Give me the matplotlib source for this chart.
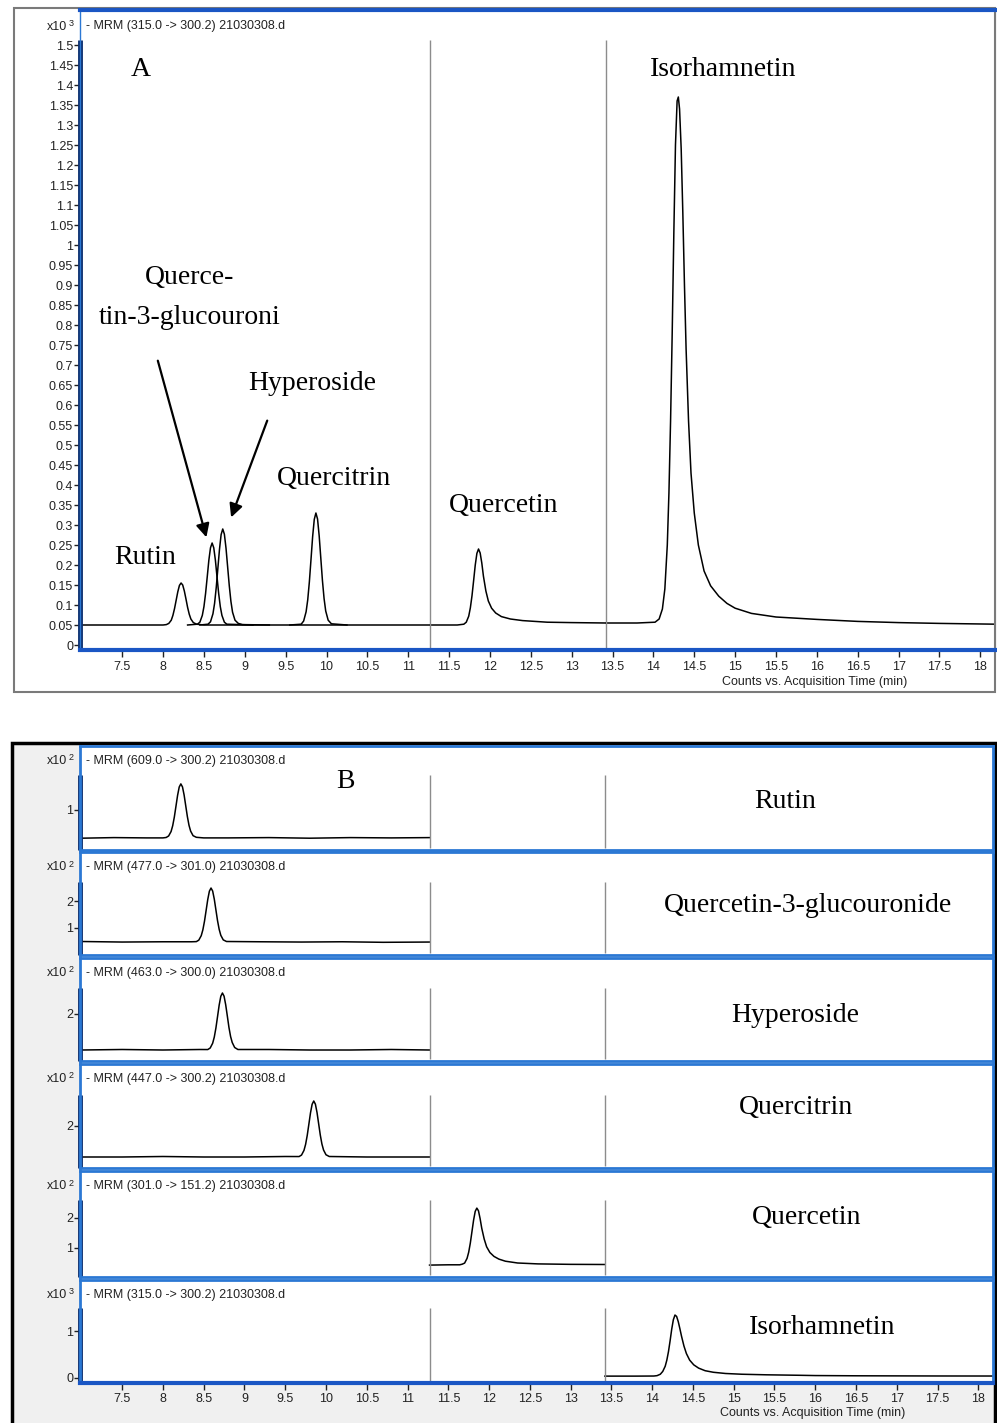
## MRM chromatograms of flavonoids: overlay (A) and single transitions (B)

import matplotlib
matplotlib.use('Agg')
import matplotlib.pyplot as plt
import numpy as np
from matplotlib.patches import Rectangle

# ---- data (time in min, counts in the scale shown) ----
seg_edges = [11.27, 13.42]
x_ticks = np.arange(7.5, 18.01, 0.5)

# panel A (x10^3)
a_rut_t = [7.0, 7.6, 8.0, 8.04, 8.07, 8.1, 8.12, 8.14, 8.16, 8.18, 8.2, 8.22, 8.24, 8.26, 8.28, 8.3, 8.32, 8.34,
           8.37, 8.41, 8.5, 9.0, 10.0, 11.27]
a_rut_y = [0.05, 0.05, 0.05, 0.051, 0.054, 0.062, 0.074, 0.091, 0.112, 0.133, 0.149, 0.155, 0.15, 0.135, 0.115,
           0.094, 0.077, 0.065, 0.056, 0.052, 0.05, 0.05, 0.05, 0.05]
a_q3g_t = [8.3, 8.42, 8.45, 8.48, 8.5, 8.52, 8.54, 8.56, 8.58, 8.6, 8.62, 8.64, 8.66, 8.68, 8.7, 8.72, 8.75, 8.78, 9.1]
a_q3g_y = [0.05, 0.052, 0.057, 0.074, 0.096, 0.129, 0.17, 0.212, 0.243, 0.255, 0.243, 0.212, 0.17, 0.129, 0.096,
           0.074, 0.057, 0.052, 0.05]
a_hyp_t = [8.45, 8.55, 8.58, 8.61, 8.63, 8.65, 8.67, 8.69, 8.71, 8.73, 8.75, 8.77, 8.79, 8.81, 8.83, 8.85, 8.88,
           8.92, 8.97, 9.3]
a_hyp_y = [0.05, 0.052, 0.058, 0.078, 0.104, 0.143, 0.191, 0.239, 0.276, 0.29, 0.277, 0.242, 0.195, 0.148, 0.109,
           0.082, 0.062, 0.054, 0.051, 0.05]
a_qct_t = [9.55, 9.69, 9.72, 9.75, 9.77, 9.79, 9.81, 9.83, 9.85, 9.87, 9.89, 9.91, 9.93, 9.95, 9.97, 9.99, 10.02,
           10.06, 10.25]
a_qct_y = [0.05, 0.052, 0.06, 0.083, 0.113, 0.158, 0.214, 0.271, 0.314, 0.33, 0.315, 0.273, 0.217, 0.161, 0.116,
           0.085, 0.062, 0.053, 0.05]
a_qce_t = [11.27, 11.6, 11.68, 11.71, 11.74, 11.76, 11.78, 11.8, 11.82, 11.84, 11.86, 11.88, 11.9, 11.92, 11.95,
           11.98, 12.02, 12.07, 12.14, 12.25, 12.4, 12.7, 13.0, 13.42]
a_qce_y = [0.05, 0.05, 0.052, 0.057, 0.072, 0.093, 0.123, 0.161, 0.2, 0.229, 0.24, 0.23, 0.205, 0.172, 0.135,
           0.11, 0.092, 0.08, 0.071, 0.065, 0.061, 0.057, 0.056, 0.055]
a_iso_t = [13.42, 13.8, 14.02, 14.07, 14.11, 14.14, 14.17, 14.19, 14.21, 14.23, 14.25, 14.27, 14.29, 14.305, 14.32,
           14.34, 14.36, 14.38, 14.4, 14.43, 14.46, 14.5, 14.55, 14.62, 14.7, 14.8, 14.9, 15.0, 15.2, 15.5,
           16.0, 16.5, 17.0, 17.5, 18.2]
a_iso_y = [0.055, 0.055, 0.057, 0.065, 0.09, 0.14, 0.25, 0.38, 0.56, 0.78, 1.03, 1.25, 1.36, 1.37, 1.34,
           1.24, 1.08, 0.9, 0.74, 0.56, 0.43, 0.33, 0.25, 0.185, 0.148, 0.122, 0.104, 0.092, 0.079, 0.07,
           0.064, 0.059, 0.056, 0.054, 0.052]

# panel B, one trace per transition
b_rut_t = [7.0, 7.4, 7.8, 8.0, 8.04, 8.07, 8.1, 8.12, 8.14, 8.16, 8.18, 8.2, 8.22, 8.24, 8.26, 8.28, 8.3, 8.32,
           8.34, 8.37, 8.41, 8.5, 8.8, 9.3, 9.8, 10.3, 10.8, 11.27]
b_rut_y = [0.53, 0.54, 0.535, 0.535, 0.542, 0.567, 0.641, 0.738, 0.882, 1.062, 1.244, 1.383, 1.435, 1.385, 1.25,
           1.07, 0.89, 0.745, 0.648, 0.572, 0.545, 0.535, 0.535, 0.54, 0.53, 0.54, 0.535, 0.54]
b_q3g_t = [7.0, 7.5, 8.0, 8.35, 8.41, 8.44, 8.47, 8.49, 8.51, 8.53, 8.55, 8.57, 8.59, 8.61, 8.63, 8.65, 8.67, 8.69,
           8.71, 8.74, 8.78, 9.2, 9.7, 10.2, 10.7, 11.27]
b_q3g_y = [0.5, 0.48, 0.49, 0.49, 0.496, 0.55, 0.716, 0.932, 1.252, 1.652, 2.056, 2.364, 2.48, 2.37, 2.07, 1.67,
           1.27, 0.95, 0.73, 0.56, 0.5, 0.49, 0.48, 0.49, 0.47, 0.48]
b_hyp_t = [7.0, 7.5, 8.0, 8.45, 8.55, 8.58, 8.61, 8.63, 8.65, 8.67, 8.69, 8.71, 8.73, 8.75, 8.77, 8.79, 8.81, 8.83,
           8.85, 8.88, 8.92, 9.3, 9.8, 10.3, 10.8, 11.27]
b_hyp_y = [1.28, 1.29, 1.28, 1.29, 1.289, 1.32, 1.415, 1.538, 1.72, 1.948, 2.178, 2.354, 2.42, 2.356, 2.185, 1.96,
           1.73, 1.55, 1.43, 1.33, 1.29, 1.29, 1.28, 1.28, 1.29, 1.28]
b_qct_t = [7.0, 7.5, 8.0, 8.5, 9.0, 9.5, 9.67, 9.7, 9.73, 9.75, 9.77, 9.79, 9.81, 9.83, 9.85, 9.87, 9.89, 9.91,
           9.93, 9.95, 9.97, 10.0, 10.04, 10.5, 11.0, 11.27]
b_qct_y = [1.38, 1.38, 1.39, 1.38, 1.38, 1.39, 1.389, 1.419, 1.512, 1.633, 1.812, 2.036, 2.263, 2.435, 2.5, 2.437,
           2.27, 2.045, 1.82, 1.64, 1.52, 1.425, 1.39, 1.38, 1.38, 1.38]
b_qce_t = [11.27, 11.5, 11.64, 11.67, 11.7, 11.73, 11.75, 11.77, 11.79, 11.81, 11.83, 11.85, 11.87, 11.89, 11.91,
           11.94, 11.97, 12.01, 12.06, 12.12, 12.2, 12.35, 12.6, 13.0, 13.42]
b_qce_y = [0.43, 0.44, 0.44, 0.46, 0.497, 0.654, 0.859, 1.163, 1.544, 1.927, 2.22, 2.33, 2.24, 1.98, 1.66,
           1.3, 1.04, 0.85, 0.72, 0.63, 0.56, 0.5, 0.47, 0.455, 0.45]
b_iso_t = [13.42, 13.8, 14.02, 14.06, 14.1, 14.13, 14.16, 14.18, 14.2, 14.22, 14.24, 14.26, 14.28, 14.3, 14.32,
           14.34, 14.36, 14.39, 14.42, 14.46, 14.51, 14.57, 14.65, 14.75, 14.9, 15.1, 15.4, 15.8, 16.0, 16.5,
           17.0, 17.5, 18.2]
b_iso_y = [0.04, 0.04, 0.042, 0.05, 0.08, 0.14, 0.25, 0.38, 0.56, 0.79, 1.04, 1.24, 1.34, 1.31, 1.2,
           1.05, 0.89, 0.68, 0.52, 0.38, 0.28, 0.21, 0.155, 0.122, 0.096, 0.08, 0.068, 0.058, 0.052, 0.047,
           0.045, 0.043, 0.042]

b_headers = ['- MRM (609.0 -> 300.2) 21030308.d', '- MRM (477.0 -> 301.0) 21030308.d',
             '- MRM (463.0 -> 300.0) 21030308.d', '- MRM (447.0 -> 300.2) 21030308.d',
             '- MRM (301.0 -> 151.2) 21030308.d', '- MRM (315.0 -> 300.2) 21030308.d']
b_names = ['Rutin', 'Quercetin-3-glucouronide', 'Hyperoside', 'Quercitrin', 'Quercetin', 'Isorhamnetin']
b_exp = ['2', '2', '2', '2', '2', '3']
b_yticks = [[1], [1, 2], [2], [2], [1, 2], [0, 1]]
b_traces = [(b_rut_t, b_rut_y), (b_q3g_t, b_q3g_y), (b_hyp_t, b_hyp_y),
            (b_qct_t, b_qct_y), (b_qce_t, b_qce_y), (b_iso_t, b_iso_y)]

# ---- layout (pixels) ----
W, H = 997, 1423
plt.rcParams['font.family'] = ['Liberation Sans', 'DejaVu Sans']
SERIF = ['Liberation Serif', 'DejaVu Serif']
BLUE = '#2b78d4'
DARKBLUE = '#0d2f6e'
GREY = '#8c8c8c'
LABEL_FS = 20

fig = plt.figure(figsize=(W / 100, H / 100), dpi=100)

def fx(px):
    return px / W

def fy(py):
    return 1 - py / H

def add_ax(x0, y0, x1, y1):
    return fig.add_axes([x0 / W, 1 - y1 / H, (x1 - x0) / W, (y1 - y0) / H])

def px2t(px):
    return 8 + (px - 163) / 81.63

def fmt(v):
    return f'{v:.2f}'.rstrip('0').rstrip('.')

XL = (px2t(80), px2t(994))

def exp_label(py, e):
    fig.text(fx(67), fy(py), 'x10', ha='right', va='center', fontsize=9, color='#222222')
    fig.text(fx(69), fy(py - 3), e, ha='left', va='center', fontsize=6.5, color='#222222')

# ================= panel A =================
fig.add_artist(Rectangle((fx(14), fy(692)), fx(995) - fx(14), fy(8) - fy(692), transform=fig.transFigure,
                         facecolor='white', edgecolor='#7a7a7a', lw=1.5, zorder=-5))
axA = add_ax(80, 10, 995, 650)
yA = lambda py: (645 - py) / 400
axA.set_xlim(*XL)
axA.set_ylim(yA(650), yA(10))
for t, y in [(a_rut_t, a_rut_y), (a_q3g_t, a_q3g_y), (a_hyp_t, a_hyp_y),
             (a_qct_t, a_qct_y), (a_qce_t, a_qce_y), (a_iso_t, a_iso_y)]:
    axA.plot(t, y, color='black', lw=1.1)
axA.vlines(seg_edges, yA(648), yA(40), color=GREY, lw=1)
axA.plot([XL[0], XL[0]], [yA(650), yA(40)], color=DARKBLUE, lw=3.5, clip_on=False, solid_capstyle='butt')

for s in ['top', 'bottom']:
    axA.spines[s].set_color('#1a56c4')
    axA.spines[s].set_linewidth(3)
axA.spines['left'].set_color(BLUE)
axA.spines['left'].set_linewidth(1)
axA.spines['right'].set_color('#7a7a7a')
axA.spines['right'].set_linewidth(1.5)

ya_ticks = np.arange(0, 1.501, 0.05)
axA.set_yticks(ya_ticks)
axA.set_yticklabels([fmt(v) for v in ya_ticks])
axA.set_xticks(x_ticks)
axA.set_xticklabels([fmt(v) for v in x_ticks])
axA.tick_params(axis='y', direction='out', length=4, width=1, labelsize=9, pad=1, colors='#222222')
axA.tick_params(axis='x', direction='out', length=5, width=1, labelsize=9, pad=3, colors='#222222')

exp_label(27, '3')
fig.text(fx(86), fy(26), '- MRM (315.0 -> 300.2) 21030308.d', ha='left', va='center', fontsize=9, color='#222222')
fig.text(fx(815), fy(682), 'Counts vs. Acquisition Time (min)', ha='center', va='center', fontsize=9, color='#222222')

# peak names
for txt, px, py in [('A', 141, 70), ('Isorhamnetin', 723, 69), ('Querce-', 190, 277),
                    ('tin-3-glucouroni', 190, 318), ('Hyperoside', 312, 384), ('Quercitrin', 334, 479),
                    ('Quercetin', 504, 505), ('Rutin', 145, 557)]:
    fig.text(fx(px), fy(py), txt, ha='center', va='center', fontsize=LABEL_FS, family=SERIF)

for (x0, y0), (x1, y1) in [((157, 358), (207, 540)), ((268, 418), (230, 520))]:
    axA.annotate('', xy=(px2t(x1), yA(y1)), xytext=(px2t(x0), yA(y0)),
                 arrowprops=dict(arrowstyle='-|>', color='black', lw=1.6, mutation_scale=20))

# ================= panel B =================
fig.add_artist(Rectangle((fx(12), fy(1440)), fx(995) - fx(12), fy(743) - fy(1440), transform=fig.transFigure,
                         facecolor='#f0f0f0', edgecolor='black', lw=2.5, zorder=-5))

tops = [746, 852, 958, 1064, 1171, 1280]
bots = [850, 955, 1061, 1168, 1277, 1383]
data_tops = [775, 882, 988, 1095, 1200, 1308]
# (tick value, its pixel row, pixels per unit)
calib = [(1, 810, 60), (2, 901, 27), (2, 1014, 50), (2, 1126, 50), (2, 1218, 30), (1, 1331, 47)]

for i in range(6):
    ax = add_ax(80, tops[i], 993, bots[i])
    v, vp, s = calib[i]
    to_y = lambda py, v=v, vp=vp, s=s: v + (vp - py) / s
    ax.set_xlim(*XL)
    ax.set_ylim(to_y(bots[i]), to_y(tops[i]))
    t, y = b_traces[i]
    ax.plot(t, y, color='black', lw=1.1)
    ax.vlines(seg_edges, to_y(bots[i] - 2), to_y(data_tops[i]), color=GREY, lw=1)
    ax.plot([XL[0], XL[0]], [to_y(bots[i]), to_y(data_tops[i])], color=DARKBLUE, lw=3.5,
            clip_on=False, solid_capstyle='butt')
    for sp in ax.spines.values():
        sp.set_color(BLUE)
        sp.set_linewidth(2)
    ax.set_yticks(b_yticks[i])
    ax.set_yticklabels([str(k) for k in b_yticks[i]])
    ax.tick_params(axis='y', direction='out', length=4, width=1, labelsize=9, pad=1, colors='#222222')
    if i < 5:
        ax.set_xticks([])
    else:
        ax.set_xticks(x_ticks)
        ax.set_xticklabels([fmt(k) for k in x_ticks])
        ax.tick_params(axis='x', direction='out', length=5, width=1, labelsize=9, pad=2, colors='#222222')
        ax.spines['bottom'].set_color('#1a56c4')
        ax.spines['bottom'].set_linewidth(3)
    exp_label(tops[i] + 15, b_exp[i])
    fig.text(fx(86), fy(tops[i] + 15), b_headers[i], ha='left', va='center', fontsize=9, color='#222222')

fig.text(fx(345), fy(782), 'B', ha='center', va='center', fontsize=LABEL_FS, family=SERIF)
for txt, px, py in zip(b_names, [785, 808, 795, 796, 807, 822], [801, 906, 1016, 1108, 1218, 1328]):
    fig.text(fx(px), fy(py), txt, ha='center', va='center', fontsize=LABEL_FS, family=SERIF)
fig.text(fx(813), fy(1413), 'Counts vs. Acquisition Time (min)', ha='center', va='center', fontsize=9, color='#222222')

plt.savefig('out.png', dpi=100)
